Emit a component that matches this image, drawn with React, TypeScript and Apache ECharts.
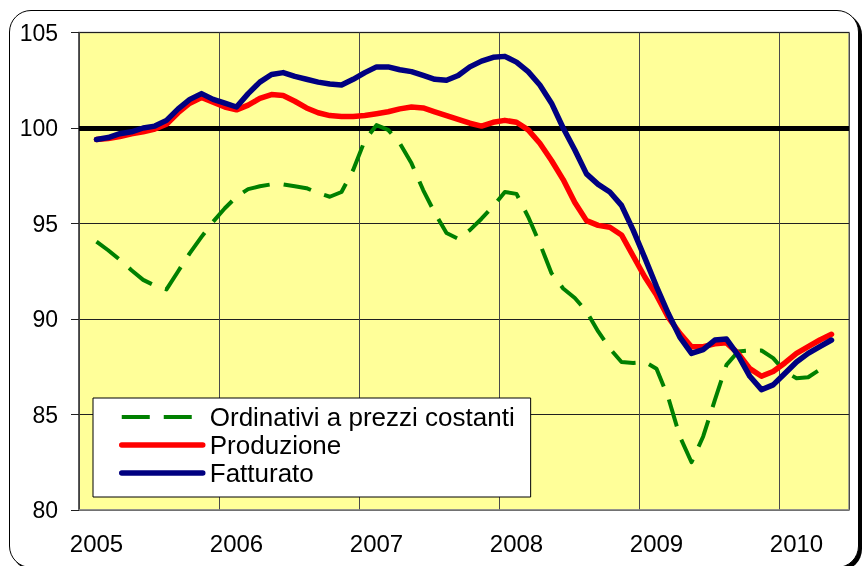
import React, { useEffect, useRef } from "react";
import * as echarts from "echarts";

// Year labels shown on the category axis (one label every 12 months)
const yearLabels = ["2005", "2006", "2007", "2008", "2009", "2010"];
const yTicks = [80, 85, 90, 95, 100, 105];
const seriesNames = ["Ordinativi a prezzi costanti", "Produzione", "Fatturato"];

// Monthly values, Jan 2005 .. Apr 2010 (orders until Mar 2010)
const ordinativi = [
  94.05, 93.6, 93.1, 92.55, 92.05, 91.75, 91.55, 92.5, 93.45, 94.3, 95.1, 95.8,
  96.4, 96.8, 96.95, 97.05, 97.05, 96.95, 96.85, 96.6, 96.4, 96.65, 97.8, 99.35,
  100.15, 99.9, 99.2, 98.15, 96.75, 95.55, 94.5, 94.2, 94.65, 95.25, 95.9, 96.65,
  96.55, 95.35, 93.95, 92.4, 91.6, 91.1, 90.4, 89.35, 88.45, 87.75, 87.7, 87.75,
  87.4, 85.9, 83.85, 82.5, 83.85, 85.75, 87.6, 88.3, 88.35, 88.35, 87.95, 87.25,
  86.9, 86.95, 87.35,
];
const produzione = [
  99.4, 99.45, 99.55, 99.7, 99.8, 99.95, 100.2, 100.8, 101.3, 101.6, 101.35, 101.1,
  100.95, 101.2, 101.55, 101.75, 101.7, 101.4, 101.05, 100.8, 100.65, 100.6, 100.6, 100.65,
  100.75, 100.85, 101.0, 101.1, 101.05, 100.85, 100.65, 100.45, 100.25, 100.1, 100.3, 100.4,
  100.3, 99.9, 99.2, 98.3, 97.3, 96.1, 95.15, 94.9, 94.8, 94.4, 93.3, 92.2,
  91.25, 90.1, 89.25, 88.55, 88.55, 88.7, 88.75, 88.2, 87.4, 87.0, 87.25, 87.7,
  88.2, 88.55, 88.9, 89.2,
];
const fatturato = [
  99.4, 99.5, 99.7, 99.8, 100.0, 100.1, 100.4, 101.0, 101.5, 101.8, 101.5, 101.3,
  101.1, 101.8, 102.4, 102.8, 102.9, 102.7, 102.55, 102.4, 102.3, 102.25, 102.55, 102.9,
  103.2, 103.2, 103.05, 102.95, 102.75, 102.55, 102.5, 102.75, 103.2, 103.5, 103.7, 103.75,
  103.45, 102.95, 102.25, 101.3, 100.0, 98.85, 97.6, 97.05, 96.65, 95.95, 94.65, 93.2,
  91.7, 90.3, 89.05, 88.2, 88.4, 88.9, 88.95, 88.1, 87.0, 86.3, 86.55, 87.15,
  87.75, 88.2, 88.55, 88.9,
];
const referenceLevel = 100;

const FONT = "'Liberation Sans', Arial, sans-serif";

export default function App() {
  const ref = useRef<HTMLDivElement>(null);

  useEffect(() => {
    if (!ref.current) return;
    const chart = echarts.init(ref.current, undefined, { renderer: "svg" });

    const months: string[] = ["2004-12"];
    yearLabels.forEach((y) => {
      for (let m = 1; m <= 12; m++) months.push(`${y}-${m < 10 ? "0" + m : m}`);
    });
    const categories = months.slice(0, 66);

    const pad = (arr: number[]) => [null, ...arr];

    chart.setOption({
      animation: false,
      textStyle: { fontFamily: FONT },
      grid: {
        left: 79,
        right: 15,
        top: 32.5,
        bottom: 56,
        show: true,
        backgroundColor: "#FFFF99",
        borderColor: "#8c8c8c",
        borderWidth: 1.5,
      },
      legend: {
        orient: "vertical",
        left: 93,
        top: 398,
        backgroundColor: "#ffffff",
        borderColor: "#000000",
        borderWidth: 1,
        borderRadius: 0,
        padding: [5, 16, 10, 26],
        itemWidth: 81,
        itemHeight: 14,
        itemGap: 0,
        lineStyle: { width: "inherit" },
        itemStyle: { opacity: 0 },
        textStyle: {
          fontSize: 26,
          color: "#000",
          fontFamily: FONT,
          lineHeight: 28,
          padding: [0, 0, 0, 2],
        },
        data: seriesNames,
      },
      xAxis: {
        type: "category",
        data: categories,
        boundaryGap: true,
        axisLine: { show: true, lineStyle: { color: "#8c8c8c", width: 1.5 } },
        axisTick: { show: false },
        axisLabel: {
          interval: (i: number) => i % 12 === 1,
          formatter: (v: string) => v.slice(0, 4),
          fontSize: 24,
          color: "#000",
          fontFamily: FONT,
          margin: 21,
        },
        splitLine: {
          show: true,
          interval: (i: number) => i % 12 === 0,
          lineStyle: { color: "#4a4a4a", width: 1 },
        },
      },
      yAxis: {
        type: "value",
        min: yTicks[0],
        max: yTicks[yTicks.length - 1],
        interval: 5,
        axisLine: { show: true, lineStyle: { color: "#404040", width: 1.5 } },
        axisTick: { show: true, length: 8, lineStyle: { color: "#202020", width: 1 } },
        axisLabel: { fontSize: 23, color: "#000", fontFamily: FONT, margin: 21 },
        splitLine: { show: true, lineStyle: { color: "#202020", width: 1 } },
      },
      series: [
        {
          name: seriesNames[0],
          type: "line",
          data: pad(ordinativi),
          symbol: "none",
          connectNulls: false,
          lineStyle: { color: "#008000", width: 4, type: [28, 14], cap: "butt", join: "round" },
          itemStyle: { color: "#008000" },
          z: 3,
          markLine: {
            silent: true,
            symbol: "none",
            z: 1,
            label: { show: false },
            lineStyle: { color: "#000", width: 5, type: "solid" },
            data: [{ yAxis: referenceLevel }],
          },
        },
        {
          name: seriesNames[1],
          type: "line",
          data: pad(produzione),
          symbol: "none",
          lineStyle: { color: "#FF0000", width: 5.5, cap: "round", join: "round" },
          itemStyle: { color: "#FF0000" },
          z: 4,
        },
        {
          name: seriesNames[2],
          type: "line",
          data: pad(fatturato),
          symbol: "none",
          lineStyle: { color: "#000080", width: 5.5, cap: "round", join: "round" },
          itemStyle: { color: "#000080" },
          z: 5,
        },
      ],
    });

    return () => chart.dispose();
  }, []);

  return (
    <>
      <div
        style={{
          position: "fixed",
          left: 9,
          top: 10,
          width: 850,
          height: 558,
          boxSizing: "border-box",
          border: "1.5px solid #000",
          borderRadius: 22,
          boxShadow: "3px 3px 0 #000",
          background: "#fff",
        }}
      />
      <div
        ref={ref}
        style={{ position: "fixed", left: 0, top: 0, width: 864, height: 566, zIndex: 1 }}
      />
    </>
  );
}
